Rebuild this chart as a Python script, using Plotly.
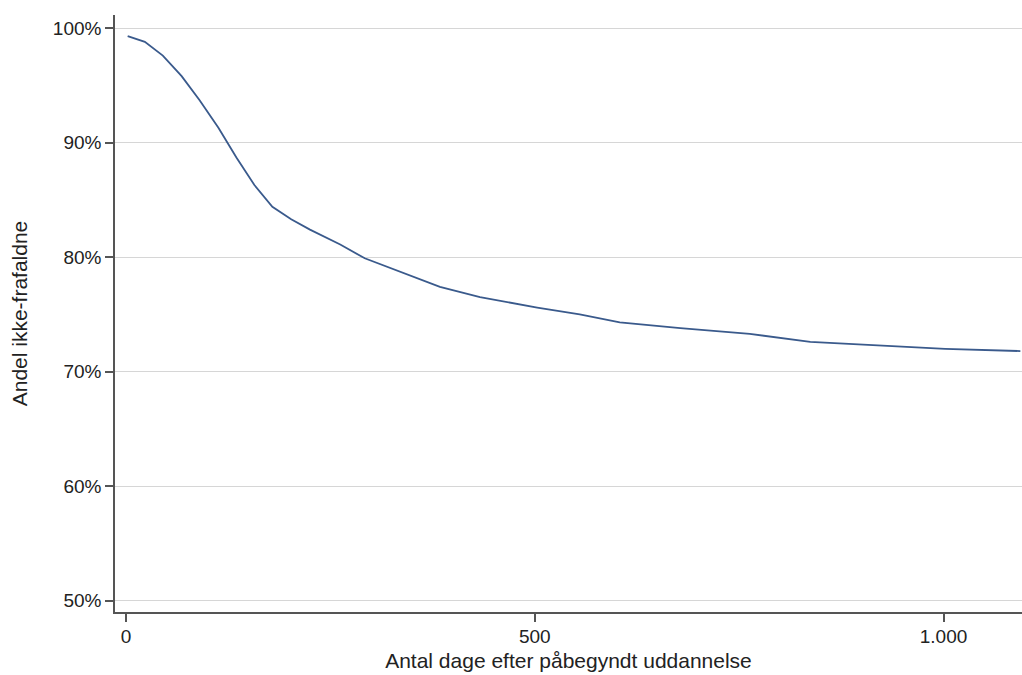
import plotly.graph_objects as go

days = [2, 23, 45, 68, 90, 113, 135, 157, 179, 202, 225, 262, 292, 335, 384, 433,
        503, 555, 604, 678, 763, 837, 922, 1002, 1094]
share = [99.3, 98.8, 97.6, 95.8, 93.7, 91.3, 88.7, 86.3, 84.4, 83.3, 82.4, 81.1, 79.9,
         78.7, 77.4, 76.5, 75.6, 75.0, 74.3, 73.8, 73.3, 72.6, 72.3, 72.0, 71.8]

x_ticks = [0, 500, 1000]
x_tick_labels = ["0", "500", "1.000"]
y_ticks = [50, 60, 70, 80, 90, 100]
y_tick_labels = ["50%", "60%", "70%", "80%", "90%", "100%"]

fig = go.Figure()
fig.add_trace(go.Scatter(x=days, y=share, mode="lines",
                         line=dict(color="#3a5a8c", width=1.8),
                         showlegend=False, hoverinfo="skip"))

font_family = "Liberation Sans, Arial, sans-serif"
fig.update_layout(
    width=1022, height=675,
    margin=dict(l=115, r=0, t=15, b=63),
    paper_bgcolor="white", plot_bgcolor="white",
    font=dict(family=font_family, size=19, color="#222222"),
    xaxis=dict(
        range=[-13.5, 1096], tickvals=x_ticks, ticktext=x_tick_labels,
        showgrid=False, zeroline=False,
        showline=True, linecolor="#555555", linewidth=1.5,
        ticks="outside", ticklen=8, tickcolor="#555555", tickwidth=1.5,
        tickfont=dict(size=19), ticklabelstandoff=-2,
        title=dict(text="Antal dage efter påbegyndt uddannelse",
                   font=dict(size=21), standoff=8),
    ),
    yaxis=dict(
        range=[49.02, 101.14], tickvals=y_ticks, ticktext=y_tick_labels,
        showgrid=True, gridcolor="#d6d6d6", gridwidth=1, zeroline=False,
        showline=True, linecolor="#555555", linewidth=1.5,
        ticks="outside", ticklen=8, tickcolor="#555555", tickwidth=1.5,
        tickfont=dict(size=19),
        title=dict(text="Andel ikke-frafaldne", font=dict(size=21), standoff=19),
    ),
)

fig.write_html(
    "out.html",
    config={"displayModeBar": False},
    post_script="document.body.style.margin='0';document.body.style.overflow='hidden';",
)
